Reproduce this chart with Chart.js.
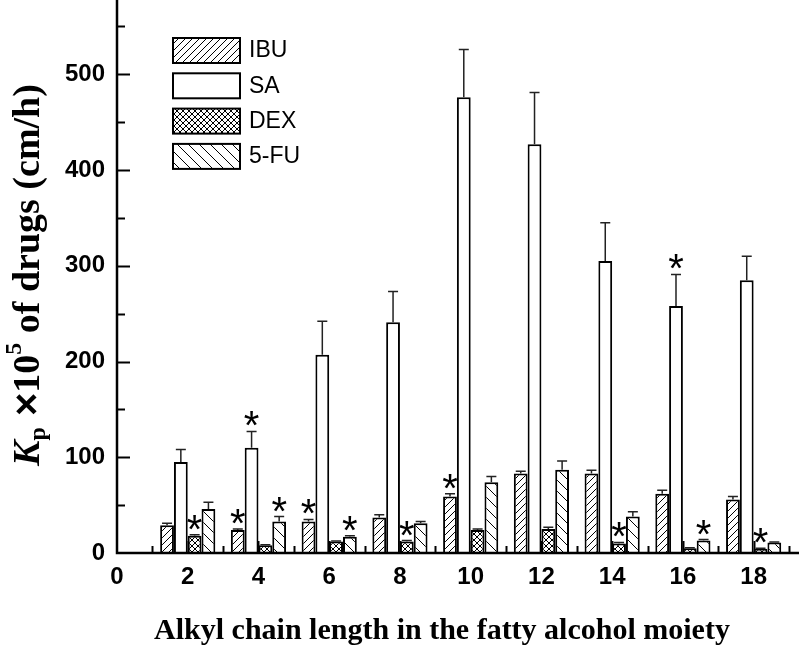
<!DOCTYPE html>
<html>
<head>
<meta charset="utf-8">
<script src="https://cdn.jsdelivr.net/npm/chart.js@4.4.1/dist/chart.umd.min.js"></script>
<style>
  html, body { margin: 0; padding: 0; background: #fff; }
  #wrap { width: 799px; height: 648px; }
</style>
</head>
<body>
<div id="wrap"><canvas id="chart" width="799" height="648"></canvas></div>
<script>
// alkyl chain length (x) and Kp values x 1e5 (cm/h)
const chainLength = [2, 4, 6, 8, 10, 12, 14, 16, 18];

const ibu    = [29, 24, 33, 37, 59, 83, 83, 62, 56];
const ibuErr = [2, 1, 2, 3, 3, 2.5, 3.5, 3.5, 3];
const sa     = [95, 110, 207, 241, 476, 427, 305, 258, 285];
const saErr  = [13, 17, 35, 32, 50, 54, 40, 33, 25];
const dex    = [18, 8, 12, 12, 24, 25, 10, 5, 4.5];
const dexErr = [1, 0.5, 0.5, 1, 1, 2, 1, 0.5, 0.5];
const fu     = [46, 33, 17, 31, 74, 87, 38, 13, 11];
const fuErr  = [7, 5, 1, 2, 6, 9, 5, 1, 0.5];

// significance marks (*)
const ibuSig = [0, 1, 1, 0, 1, 0, 0, 0, 0];
const saSig  = [0, 1, 0, 0, 0, 0, 0, 1, 0];
const dexSig = [1, 0, 0, 1, 0, 0, 1, 0, 1];
const fuSig  = [0, 1, 1, 0, 0, 0, 0, 1, 0];

const drugNames = ['IBU', 'SA', 'DEX', '5-FU'];
const xTitle = 'Alkyl chain length in the fatty alcohol moiety';

function makePattern(kind) {
  const s = kind === 'fu' ? 11 : kind === 'dex' ? 6 : 7;
  const c = document.createElement('canvas');
  c.width = s; c.height = s;
  const g = c.getContext('2d');
  g.fillStyle = '#fff';
  g.fillRect(0, 0, s, s);
  if (kind === 'sa') return g.createPattern(c, 'repeat');
  g.strokeStyle = '#000';
  g.lineWidth = 1;
  const fwd = () => {
    for (const o of [-s, 0, s]) {
      g.beginPath(); g.moveTo(o - 1, s + 1); g.lineTo(o + s + 1, -1); g.stroke();
    }
  };
  const back = () => {
    for (const o of [-s, 0, s]) {
      g.beginPath(); g.moveTo(o - 1, -1); g.lineTo(o + s + 1, s + 1); g.stroke();
    }
  };
  if (kind === 'ibu') fwd();
  if (kind === 'fu') back();
  if (kind === 'dex') { fwd(); back(); }
  return g.createPattern(c, 'repeat');
}

const fills = [makePattern('ibu'), makePattern('sa'), makePattern('dex'), makePattern('fu')];
const values = [ibu, sa, dex, fu];
const errors = [ibuErr, saErr, dexErr, fuErr];
const sigs = [ibuSig, saSig, dexSig, fuSig];

const datasets = drugNames.map((name, k) => ({
  label: name,
  data: chainLength.map((x, i) => ({ x, y: values[k][i] })),
  backgroundColor: fills[k],
  borderColor: '#000',
  borderWidth: 2,
  err: errors[k],
  sig: sigs[k]
}));

// inward ticks, drawn under the bars
const ticksPlugin = {
  id: 'inTicks',
  beforeDatasetsDraw(chart) {
    const { ctx, chartArea: ca, scales: { x, y } } = chart;
    ctx.save();
    ctx.strokeStyle = '#000';
    ctx.lineWidth = 2;
    for (let v = 50; v <= 550; v += 50) {
      const py = Math.round(y.getPixelForValue(v)) + 0.5;
      const len = v % 100 === 0 ? 13 : 8;
      ctx.beginPath(); ctx.moveTo(ca.left, py); ctx.lineTo(ca.left + len, py); ctx.stroke();
    }
    for (let v = 1; v <= 19; v++) {
      const px = Math.min(Math.round(x.getPixelForValue(v)) + 0.5, chart.width - 2);
      const len = v % 2 === 0 ? 12 : 7;
      ctx.beginPath(); ctx.moveTo(px, ca.bottom); ctx.lineTo(px, ca.bottom - len); ctx.stroke();
    }
    ctx.restore();
  }
};

// error bars, asterisks, axis lines
const overlayPlugin = {
  id: 'overlay',
  afterDatasetsDraw(chart) {
    const { ctx, chartArea: ca, scales: { y } } = chart;
    ctx.save();
    chart.data.datasets.forEach((ds, k) => {
      const meta = chart.getDatasetMeta(k);
      meta.data.forEach((bar, i) => {
        const top = y.getPixelForValue(ds.data[i].y + ds.err[i]);
        ctx.strokeStyle = '#222';
        ctx.lineWidth = 1.5;
        ctx.beginPath();
        ctx.moveTo(bar.x, bar.y);
        ctx.lineTo(bar.x, top);
        ctx.moveTo(bar.x - 5, top);
        ctx.lineTo(bar.x + 5, top);
        ctx.stroke();
        if (ds.sig[i]) {
          ctx.fillStyle = '#000';
          ctx.font = '40px "Liberation Sans", Arial, sans-serif';
          ctx.textAlign = 'center';
          ctx.textBaseline = 'alphabetic';
          ctx.fillText('*', bar.x, top + 8);
        }
      });
    });
    ctx.strokeStyle = '#000';
    ctx.lineWidth = 2.5;
    ctx.beginPath();
    ctx.moveTo(ca.left, 0);
    ctx.lineTo(ca.left, ca.bottom);
    ctx.lineTo(chart.width, ca.bottom);
    ctx.stroke();
    ctx.restore();
  }
};

// legend in the upper left of the plot
const legendPlugin = {
  id: 'boxLegend',
  afterDraw(chart) {
    const { ctx } = chart;
    ctx.save();
    chart.data.datasets.forEach((ds, k) => {
      const top = 38 + k * 35.3;
      ctx.fillStyle = ds.backgroundColor;
      ctx.fillRect(173, top, 67, 25);
      ctx.strokeStyle = '#000';
      ctx.lineWidth = 2;
      ctx.strokeRect(173, top, 67, 25);
      ctx.fillStyle = '#000';
      ctx.font = '23px "Liberation Sans", Arial, sans-serif';
      ctx.textAlign = 'left';
      ctx.textBaseline = 'middle';
      ctx.fillText(ds.label, 249, top + 13);
    });
    ctx.restore();
  }
};

// axis titles (y title needs subscript / superscript)
const titlesPlugin = {
  id: 'axisTitles',
  afterDraw(chart) {
    const { ctx } = chart;
    const serif = '"Liberation Serif", "Times New Roman", serif';
    ctx.save();
    ctx.fillStyle = '#000';
    ctx.font = 'bold 30px ' + serif;
    ctx.textAlign = 'center';
    ctx.textBaseline = 'middle';
    ctx.fillText(xTitle, 442, 631);

    const parts = [
      { t: 'K', f: 'italic bold 38px ' + serif, dy: 0 },
      { t: 'p', f: 'bold 24px ' + serif, dy: 10 },
      { t: ' \u00D7', f: 'bold 40px "Liberation Sans", Arial, sans-serif', dy: 0 },
      { t: '10', f: 'bold 38px ' + serif, dy: 0 },
      { t: '5', f: 'bold 24px ' + serif, dy: -14 },
      { t: ' of drugs (cm/h)', f: 'bold 38px ' + serif, dy: 0 }
    ];
    let total = 0;
    parts.forEach(p => { ctx.font = p.f; p.w = ctx.measureText(p.t).width; total += p.w; });
    ctx.translate(29, 275);
    ctx.rotate(-Math.PI / 2);
    ctx.textAlign = 'left';
    let cx = -total / 2;
    parts.forEach(p => {
      ctx.font = p.f;
      ctx.fillText(p.t, cx, p.dy);
      cx += p.w;
    });
    ctx.restore();
  }
};

const tickFont = { family: '"Liberation Sans", Arial, sans-serif', weight: 'bold', size: 24 };

new Chart(document.getElementById('chart'), {
  type: 'bar',
  data: { datasets },
  options: {
    responsive: false,
    animation: false,
    layout: { padding: { top: 1, right: 2, left: 0, bottom: 0 } },
    // the bar ruler also counts the unit tick spacing, so this is 2 x 0.78
    datasets: { bar: { categoryPercentage: 1.56, barPercentage: 1 } },
    plugins: { legend: { display: false }, tooltip: { enabled: false } },
    scales: {
      x: {
        type: 'linear',
        min: 0,
        max: 19,
        offset: false,
        grid: { display: false, drawTicks: false },
        border: { display: false },
        ticks: {
          stepSize: 1, autoSkip: false, maxRotation: 0, padding: 10,
          color: '#000', font: tickFont,
          callback: v => (v % 2 === 0 ? v : '')
        },
        afterFit: s => { s.height = 95; }
      },
      y: {
        min: 0,
        max: 550,
        grid: { display: false, drawTicks: false },
        border: { display: false },
        ticks: {
          stepSize: 50, padding: 12, color: '#000', font: tickFont,
          callback: v => (v % 100 === 0 ? v : '')
        },
        afterFit: s => { s.width = 117; }
      }
    }
  },
  plugins: [ticksPlugin, overlayPlugin, legendPlugin, titlesPlugin]
});
</script>
</body>
</html>
